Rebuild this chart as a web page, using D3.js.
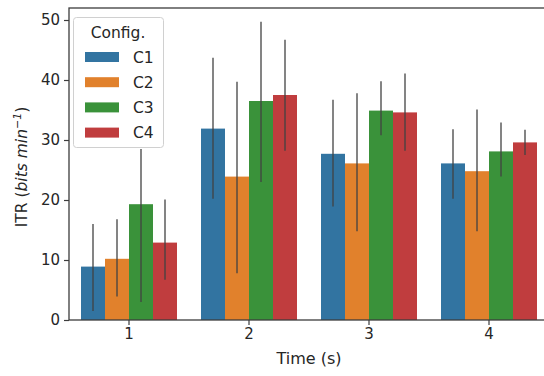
<!DOCTYPE html>
<html><head><meta charset="utf-8">
<script src="https://cdn.jsdelivr.net/npm/d3@7"></script>
<style>body{margin:0;background:#fff}svg{display:block}text{font-family:"DejaVu Sans",sans-serif;fill:#262626}</style>
</head><body>
<svg id="c" width="544" height="376"></svg>
<script>
const groups = ["1","2","3","4"];
const configs = ["C1","C2","C3","C4"];
const colors = ["#3274a1","#e1812c","#3a923a","#c03d3e"];
const yTicks = [0,10,20,30,40,50];
// means per config, across groups 1..4
const C1 = [8.9, 31.9, 27.7, 26.1];
const C2 = [10.2, 23.9, 26.1, 24.8];
const C3 = [19.3, 36.5, 34.9, 28.1];
const C4 = [12.9, 37.5, 34.6, 29.6];
// error bar low / high
const C1lo = [1.5, 20.2, 18.9, 20.2], C1hi = [16.0, 43.7, 36.7, 31.8];
const C2lo = [3.9, 7.8, 14.8, 14.8],  C2hi = [16.8, 39.7, 37.8, 35.1];
const C3lo = [3.0, 23.0, 30.8, 23.9], C3hi = [28.5, 49.7, 39.8, 32.9];
const C4lo = [6.7, 28.2, 28.2, 27.5], C4hi = [20.1, 46.7, 41.1, 31.7];

const series = [
  {name:"C1", v:C1, lo:C1lo, hi:C1hi},
  {name:"C2", v:C2, lo:C2lo, hi:C2hi},
  {name:"C3", v:C3, lo:C3lo, hi:C3hi},
  {name:"C4", v:C4, lo:C4lo, hi:C4hi}
];

const svg = d3.select("#c");
const L=69, R=549, T=8, B=320;
const x = d3.scaleBand().domain(groups).range([L,R]).paddingInner(0.2).paddingOuter(0.1);
const xs = d3.scaleBand().domain(configs).range([0, x.bandwidth()]);
const y = d3.scaleLinear().domain([0,52]).range([B,T]);

const g = svg.append("g");
series.forEach((s,si)=>{
  groups.forEach((grp,gi)=>{
    const bx = x(grp)+xs(s.name);
    g.append("rect").attr("x",bx).attr("width",xs.bandwidth())
      .attr("y",y(s.v[gi])).attr("height",y(0)-y(s.v[gi]))
      .attr("fill",colors[si]);
  });
});
series.forEach((s,si)=>{
  groups.forEach((grp,gi)=>{
    const cx = x(grp)+xs(s.name)+xs.bandwidth()/2;
    g.append("line").attr("x1",cx).attr("x2",cx)
      .attr("y1",y(s.lo[gi])).attr("y2",y(s.hi[gi]))
      .attr("stroke","#424242").attr("stroke-width",1.3);
  });
});

// axes
const ya = svg.append("g").attr("transform",`translate(${L},0)`)
  .call(d3.axisLeft(y).tickValues(yTicks).tickSize(5).tickPadding(4));
const xa = svg.append("g").attr("transform",`translate(0,${B})`)
  .call(d3.axisBottom(x).tickSize(5).tickPadding(3));
[ya,xa].forEach(a=>{
  a.select(".domain").remove();
  a.selectAll(".tick line").attr("stroke","#3c3c3c").attr("stroke-width",1.2);
  a.selectAll(".tick text").attr("font-size",15).style("fill","#262626");
});
// spines
svg.append("rect").attr("x",L).attr("y",T).attr("width",R-L).attr("height",B-T)
  .attr("fill","none").attr("stroke","#3c3c3c").attr("stroke-width",1.3);

// labels
svg.append("text").attr("x",(L+R)/2).attr("y",364).attr("text-anchor","middle")
  .attr("font-size",16).text("Time (s)");
const yl = svg.append("text").attr("transform",`translate(27,${(T+B)/2+3}) rotate(-90)`)
  .attr("text-anchor","middle").attr("font-size",15.5);
yl.append("tspan").text("ITR (");
yl.append("tspan").attr("font-style","italic").text("bits min");
yl.append("tspan").attr("font-style","italic").attr("font-size",11).attr("dy",-6).text("−1");
yl.append("tspan").attr("dy",6).text(")");

// legend
const lg = svg.append("g");
lg.append("rect").attr("x",73.5).attr("y",17.5).attr("width",90).attr("height",130).attr("rx",3)
  .attr("fill","#fff").attr("fill-opacity",0.8).attr("stroke","#d0d0d0");
lg.append("text").attr("x",118).attr("y",38).attr("text-anchor","middle").attr("font-size",15.5).text("Config.");
configs.forEach((c,i)=>{
  const yy = 57 + i*25.2;
  lg.append("rect").attr("x",85).attr("y",yy-5).attr("width",34).attr("height",10).attr("fill",colors[i]);
  lg.append("text").attr("x",133).attr("y",yy+5.5).attr("font-size",15.5).text(c);
});
</script>
</body></html>
